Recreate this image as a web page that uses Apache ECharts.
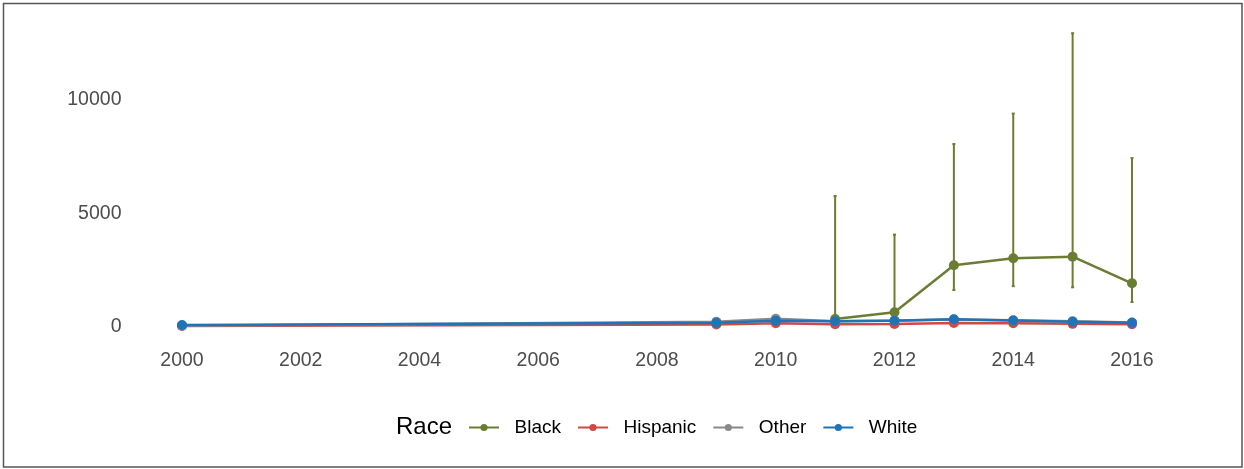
<!DOCTYPE html>
<html>
<head>
<meta charset="utf-8">
<script src="https://cdn.jsdelivr.net/npm/echarts@6/dist/echarts.min.js"></script>
<style>html,body{margin:0;padding:0;background:#fff}#c{width:1244px;height:469px}</style>
</head>
<body>
<div id="c"></div>
<script>
const years = [2000, 2009, 2010, 2011, 2012, 2013, 2014, 2015, 2016];
const blackYears = [2011, 2012, 2013, 2014, 2015, 2016];
const blackValues = [350, 650, 2720, 3030, 3100, 1925];
const blackLow = [250, 450, 1630, 1800, 1750, 1100];
const blackHigh = [5770, 4070, 8060, 9400, 12940, 7440];
const hispanicValues = [50, 110, 170, 120, 130, 180, 170, 140, 120];
const otherValues = [60, 230, 360, 250, 290, 330, 300, 250, 200];
const whiteValues = [90, 190, 280, 250, 280, 340, 290, 235, 190];
const xTicks = [2000, 2002, 2004, 2006, 2008, 2010, 2012, 2014, 2016];
const yTicks = [0, 5000, 10000];
const raceNames = ['Black', 'Hispanic', 'Other', 'White'];

const colors = {Black: '#6B7D33', Hispanic: '#CF4A45', Other: '#898989', White: '#1F74B8'};
const font = '"Liberation Sans", Arial, sans-serif';

function pairs(xs, ys) { return xs.map((x, i) => [x, ys[i]]); }

const chart = echarts.init(document.getElementById('c'), null, {renderer: 'canvas'});
const lineBase = (name, data, z) => ({
  name, type: 'line', data, z,
  symbol: 'circle', symbolSize: 10,
  lineStyle: {width: 2.5, color: colors[name]},
  itemStyle: {color: colors[name]},
  animation: false
});

chart.setOption({
  animation: false,
  grid: {left: 134.5, right: 64.5, top: 20.5, bottom: 123.8},
  title: {
    text: 'Race', left: 391, top: 410,
    textStyle: {fontFamily: font, fontSize: 24, fontWeight: 'normal', color: '#000'}
  },
  legend: {
    left: 463, top: 413,
    itemWidth: 30, itemHeight: 9, itemGap: 16,
    data: raceNames,
    textStyle: {fontFamily: font, fontSize: 19, color: '#000', padding: [0, 0, 0, 10.5]}
  },
  xAxis: {
    type: 'value', min: 1999.2, max: 2016.8,
    axisLine: {show: false}, axisTick: {show: false}, splitLine: {show: false},
    axisLabel: {customValues: xTicks, fontFamily: font, fontSize: 19.5, color: '#4D4D4D', margin: 5,
      formatter: v => String(v)}
  },
  yAxis: {
    type: 'value', min: -800, max: 13500,
    axisLine: {show: false}, axisTick: {show: false}, splitLine: {show: false},
    axisLabel: {customValues: yTicks, fontFamily: font, fontSize: 19.5, color: '#4D4D4D', margin: 13,
      formatter: v => String(v)}
  },
  graphic: [{
    type: 'rect', shape: {x: 3.5, y: 3.5, width: 1238.5, height: 463.5},
    style: {fill: null, stroke: '#555', lineWidth: 1.5}, silent: true
  }],
  series: [
    {
      name: 'Black error', type: 'custom', z: 2,
      data: blackYears.map((y, i) => [y, blackLow[i], blackHigh[i]]),
      itemStyle: {color: colors.Black},
      renderItem: (params, api) => {
        const lo = api.coord([api.value(0), api.value(1)]);
        const hi = api.coord([api.value(0), api.value(2)]);
        const w = 1.5;
        return {type: 'group', children: [
          {type: 'line', shape: {x1: lo[0], y1: lo[1], x2: hi[0], y2: hi[1]}, style: {stroke: colors.Black, lineWidth: 2}},
          {type: 'line', shape: {x1: lo[0] - w, y1: lo[1], x2: lo[0] + w, y2: lo[1]}, style: {stroke: colors.Black, lineWidth: 2}},
          {type: 'line', shape: {x1: hi[0] - w, y1: hi[1], x2: hi[0] + w, y2: hi[1]}, style: {stroke: colors.Black, lineWidth: 2}}
        ]};
      },
      animation: false
    },
    lineBase('Black', pairs(blackYears, blackValues), 3),
    lineBase('Hispanic', pairs(years, hispanicValues), 4),
    lineBase('Other', pairs(years, otherValues), 5),
    lineBase('White', pairs(years, whiteValues), 6)
  ]
});
</script>
</body>
</html>
